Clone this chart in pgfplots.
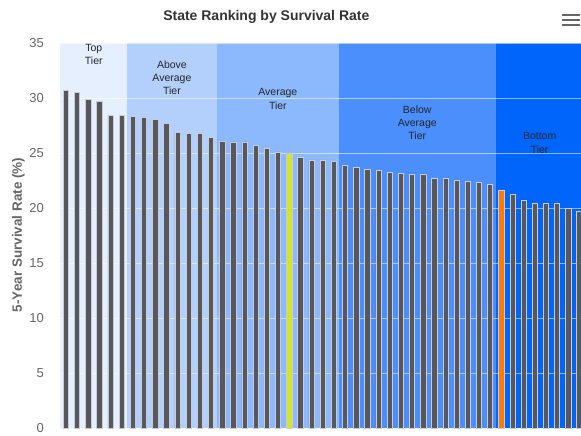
\documentclass[border=0pt]{standalone}
\usepackage{pgfplots}
\pgfplotsset{compat=1.18}
\usepackage{fontspec}
\setmainfont{Liberation Sans}
\definecolor{tierA}{HTML}{E6EFFD}
\definecolor{tierB}{HTML}{B3CFFC}
\definecolor{tierC}{HTML}{8CB8FD}
\definecolor{tierD}{HTML}{4A8FFC}
\definecolor{tierE}{HTML}{0065FA}
\definecolor{bargray}{HTML}{58585C}
\definecolor{barborder}{HTML}{C8CCD8}
\definecolor{baryellow}{HTML}{D4E32C}
\definecolor{barorange}{HTML}{FF7A00}
\definecolor{tickgray}{HTML}{666666}
\definecolor{titlegray}{HTML}{333333}
\begin{document}
\begin{tikzpicture}
\begin{axis}[
  set layers=standard,
  scale only axis, width=521pt, height=385.3pt,
  xmin=-0.54, xmax=46.1, ymin=0, ymax=35,
  xtick=\empty, ytick={0,5,...,35},
  axis line style={draw=none},
  major tick length=0pt,
  ymajorgrids, grid style={white, opacity=0.55, line width=0.8pt},
  yticklabel style={font=\fontsize{13}{13}\selectfont, text=tickgray, xshift=-12.5pt},
  /pgf/number format/assume math mode=true,
  clip=true,
]
\addplot[fill=tierA, draw=none, on layer=axis background] coordinates {(-0.54,35) (5.5,35)} \closedcycle;
\addplot[fill=tierB, draw=none, on layer=axis background] coordinates {(5.5,35) (13.5,35)} \closedcycle;
\addplot[fill=tierC, draw=none, on layer=axis background] coordinates {(13.5,35) (24.5,35)} \closedcycle;
\addplot[fill=tierD, draw=none, on layer=axis background] coordinates {(24.5,35) (38.5,35)} \closedcycle;
\addplot[fill=tierE, draw=none, on layer=axis background] coordinates {(38.5,35) (46.1,35)} \closedcycle;
\addplot[ybar, bar width=5.3pt, bar shift=0pt, fill=bargray, draw=barborder, line width=0.7pt] coordinates {
(0,30.7) (1,30.5) (2,29.9) (3,29.7) (4,28.45) (5,28.45) (6,28.3) (7,28.2) (8,28.05) (9,27.65)
(10,26.85) (11,26.8) (12,26.8) (13,26.45) (14,26.1) (15,26.0) (16,26.0) (17,25.7) (18,25.45) (19,25.1)
(21,24.6) (22,24.3) (23,24.3) (24,24.2) (25,23.85) (26,23.7) (27,23.5) (28,23.45) (29,23.25)
(30,23.15) (31,23.1) (32,23.1) (33,22.7) (34,22.7) (35,22.55) (36,22.45) (37,22.3) (38,22.15)
(40,21.2) (41,20.7) (42,20.4) (43,20.4) (44,20.4) (45,20.0) (46,19.7)
};
\addplot[ybar, bar width=5.3pt, bar shift=0pt, fill=baryellow, draw=barborder, line width=0.7pt] coordinates {(20,25.0)};
\addplot[ybar, bar width=5.3pt, bar shift=0pt, fill=barorange, draw=barborder, line width=0.7pt] coordinates {(39,21.6)};
\node[align=center, font=\fontsize{10.5}{13.3}\selectfont, text=black!85] at (axis cs:2.49,33.95) {Top\\Tier};
\node[align=center, font=\fontsize{10.5}{13.3}\selectfont, text=black!85] at (axis cs:9.49,31.83) {Above\\Average\\Tier};
\node[align=center, font=\fontsize{10.5}{13.3}\selectfont, text=black!85] at (axis cs:18.98,29.9) {Average\\Tier};
\node[align=center, font=\fontsize{10.5}{13.3}\selectfont, text=black!85] at (axis cs:31.47,27.75) {Below\\Average\\Tier};
\node[align=center, font=\fontsize{10.5}{13.3}\selectfont, text=black!85] at (axis cs:42.43,25.9) {Bottom\\Tier};
\end{axis}
\node[font=\fontsize{14}{14}\selectfont\bfseries, text=titlegray] at (206.5pt,411.3pt) {State Ranking by Survival Rate};
\node[font=\fontsize{13.5}{13.5}\selectfont\bfseries, text=tickgray, rotate=90] at (-41.7pt,193.3pt) {5-Year Survival Rate (\%)};
\foreach \yy in {413,408,403} {\draw[tickgray, line width=1.8pt] (502pt,\yy pt) -- (520pt,\yy pt);}
\path (-60pt,-6.7pt) rectangle (521pt,428.3pt);
\end{tikzpicture}
\end{document}
